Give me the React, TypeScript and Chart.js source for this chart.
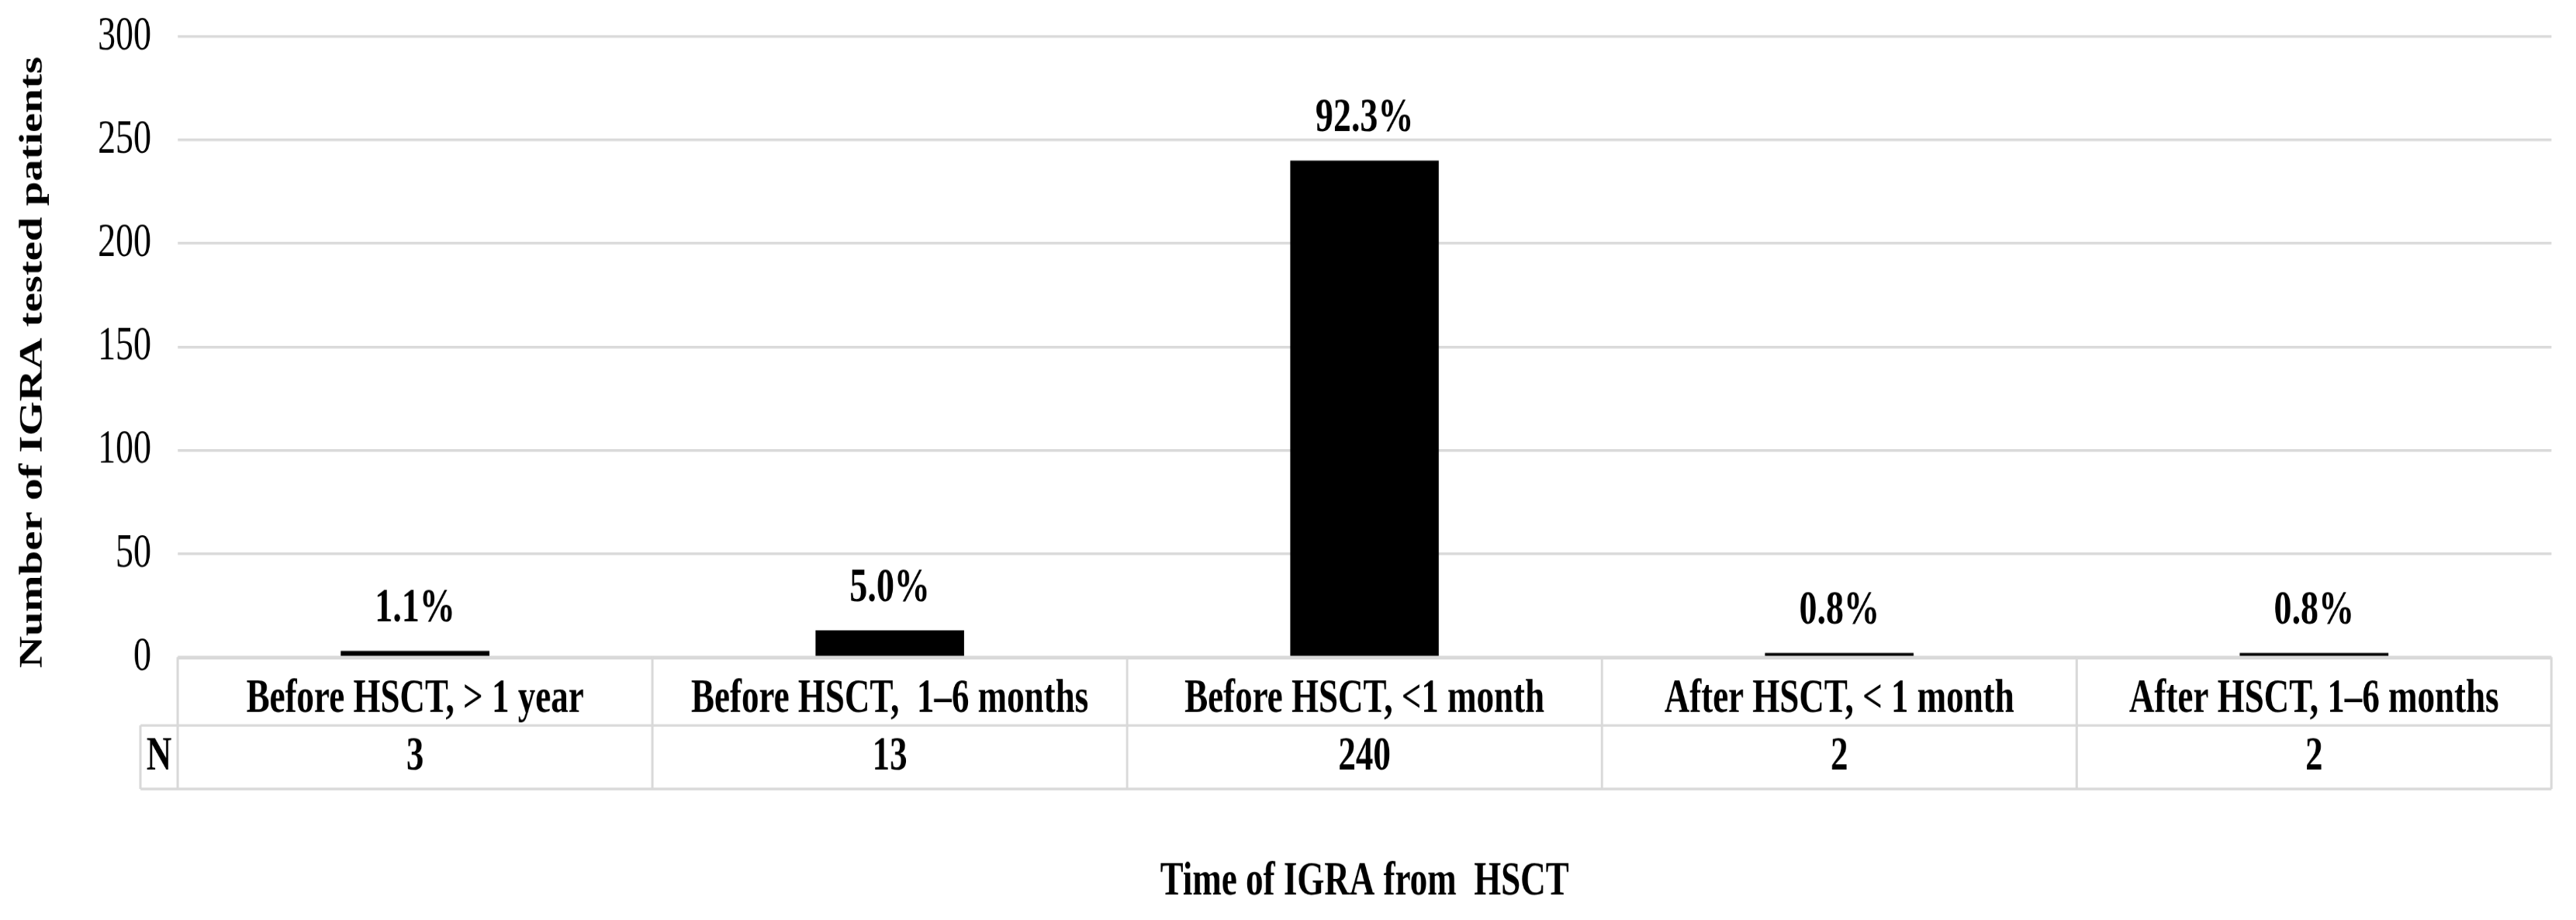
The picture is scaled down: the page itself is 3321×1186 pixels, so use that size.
import React, { useEffect, useRef } from 'react';
import { Chart, registerables } from 'chart.js';

Chart.register(...registerables);

// ---- data ----
const categories = [
  'Before HSCT, > 1 year',
  'Before HSCT,  1–6 months',
  'Before HSCT, <1 month',
  'After HSCT, < 1 month',
  'After HSCT, 1–6 months',
];
const patientCounts = [3, 13, 240, 2, 2];
const percentLabels = ['1.1%', '5.0%', '92.3%', '0.8%', '0.8%'];
const nRowLabel = 'N';
const yTickValues = [0, 50, 100, 150, 200, 250, 300];
const xTitle = 'Time of IGRA from  HSCT';
const yTitle = 'Number of IGRA tested patients';

// ---- layout / style ----
const W = 3321;
const H = 878;
const SY = 1186 / H; // vertical stretch of the whole picture
const Y = (v: number) => v / SY;
const FONT = "'Liberation Serif', 'Times New Roman', serif";
const GRID = '#d9d9d9';

const overlay = {
  id: 'overlay',
  afterDatasetsDraw(chart: any) {
    const { ctx, chartArea: a, scales } = chart;
    const xs = scales.x;
    const n = categories.length;
    const catW = (a.right - a.left) / n;
    const mid = Y(935);
    const bot = Y(1017);
    const nLeft = 181;
    ctx.save();
    ctx.strokeStyle = GRID;
    ctx.lineWidth = 2.4;
    ctx.beginPath();
    ctx.moveTo(a.left, a.bottom + 1);
    ctx.lineTo(a.right, a.bottom + 1);
    ctx.moveTo(nLeft, mid);
    ctx.lineTo(a.right, mid);
    ctx.moveTo(nLeft, bot);
    ctx.lineTo(a.right, bot);
    ctx.stroke();
    ctx.lineWidth = 3;
    ctx.beginPath();
    for (let k = 0; k <= n; k++) {
      const x = a.left + k * catW;
      ctx.moveTo(x, a.bottom);
      ctx.lineTo(x, bot);
    }
    ctx.moveTo(nLeft, mid);
    ctx.lineTo(nLeft, bot);
    ctx.stroke();

    ctx.fillStyle = '#000';
    ctx.textAlign = 'center';
    ctx.textBaseline = 'middle';
    ctx.font = `bold 45px ${FONT}`;
    const rowY = (mid + bot) / 2;
    ctx.fillText(nRowLabel, (nLeft + a.left) / 2, rowY);
    patientCounts.forEach((v, i) => ctx.fillText(String(v), xs.getPixelForValue(i), rowY));

    const meta = chart.getDatasetMeta(0);
    ctx.textBaseline = 'alphabetic';
    ctx.font = `bold 46px ${FONT}`;
    meta.data.forEach((el: any, i: number) => ctx.fillText(percentLabels[i], el.x, el.y - Y(38)));

    ctx.font = `bold 45px ${FONT}`;
    ctx.textBaseline = 'middle';
    ctx.fillText(xTitle, (a.left + a.right) / 2, Y(1137));

    ctx.translate(43, Y(467));
    ctx.rotate(-Math.PI / 2);
    ctx.font = `bold 42px ${FONT}`;
    ctx.fillText(yTitle, 0, 0);
    ctx.restore();
  },
};

export default function App() {
  const ref = useRef<HTMLCanvasElement | null>(null);
  useEffect(() => {
    if (!ref.current) return;
    const chart = new Chart(ref.current, {
      type: 'bar',
      data: {
        labels: categories,
        datasets: [
          {
            data: patientCounts,
            backgroundColor: '#000000',
            borderWidth: 0,
            categoryPercentage: 1,
            barPercentage: 0.313,
          },
        ],
      },
      options: {
        animation: false,
        responsive: true,
        maintainAspectRatio: false,
        devicePixelRatio: 1.4,
        layout: { padding: { top: Y(47), right: W - 3289, left: 0, bottom: 0 } },
        plugins: { legend: { display: false }, tooltip: { enabled: false } },
        scales: {
          x: {
            grid: { display: false },
            border: { display: false },
            ticks: {
              color: '#000',
              font: { family: FONT, size: 45, weight: 'bold', lineHeight: 1 },
              padding: Y(891) - Y(847) - 22.5,
              autoSkip: false,
              maxRotation: 0,
              minRotation: 0,
            },
            afterFit: (s: any) => {
              s.height = H - Y(847);
              s.paddingLeft = 0;
              s.paddingRight = 0;
            },
          },
          y: {
            min: yTickValues[0],
            max: yTickValues[yTickValues.length - 1],
            afterBuildTicks: (s: any) => {
              s.ticks = yTickValues.map((v) => ({ value: v }));
            },
            grid: { color: GRID, lineWidth: 2.5, drawTicks: false },
            border: { display: false },
            ticks: {
              color: '#000',
              font: { family: FONT, size: 46 },
              padding: 34,
            },
            afterFit: (s: any) => {
              s.width = 229;
              s.paddingTop = 0;
              s.paddingBottom = 0;
            },
          },
        },
      },
      plugins: [overlay],
    });
    return () => chart.destroy();
  }, []);

  return (
    <div style={{ position: 'fixed', left: 0, top: 0, width: W, height: 1186, overflow: 'hidden', background: '#fff' }}>
      <div
        style={{
          position: 'absolute',
          left: 0,
          top: 0,
          width: W,
          height: H,
          transform: `scaleY(${SY})`,
          transformOrigin: '0 0',
        }}
      >
        <canvas ref={ref} />
      </div>
    </div>
  );
}
